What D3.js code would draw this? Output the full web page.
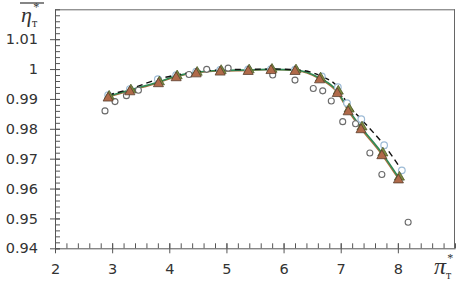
<!DOCTYPE html>
<html>
<head>
<meta charset="utf-8">
<script src="https://cdn.jsdelivr.net/npm/d3@7"></script>
<style>
  body { margin: 0; background: #fff; }
  svg { display: block; }
  .tick text { font-family: "DejaVu Sans", sans-serif; font-size: 14.5px; fill: #333; }
  .domain, .tick line { stroke: #555; }
</style>
</head>
<body>
<div id="chart"></div>
<script>
// measured points (open circles)
let expX = [2.875, 3.05, 3.25, 3.46, 4.345, 4.655, 5.03, 5.81, 6.2, 6.52, 6.685, 6.835, 7.035, 7.26, 7.51, 7.72, 8.18];
let expY = [0.9860, 0.9891, 0.9911, 0.9929, 0.9982, 0.9999, 1.0003, 0.9980, 0.9963, 0.9935, 0.9927, 0.9893, 0.9824, 0.9817, 0.9719, 0.9647, 0.9487];

// calculated series 1 (brown triangles)
let calcX = [2.93, 3.31, 3.81, 4.12, 4.47, 4.89, 5.38, 5.78, 6.2, 6.63, 6.94, 7.13, 7.355, 7.72, 8.01];
let calc1Y = [0.9906, 0.9927, 0.9954, 0.9974, 0.9987, 0.9993, 0.9995, 0.9998, 0.9995, 0.9967, 0.9921, 0.9860, 0.9800, 0.9713, 0.9632];
// calculated series 2 (green triangles)
let calc2Y = [0.9909, 0.9930, 0.9957, 0.9977, 0.9989, 0.9995, 0.9997, 0.9999, 0.9997, 0.9970, 0.9926, 0.9866, 0.9806, 0.9719, 0.9638];
// calculated series 3 (light circles, dashed line)
let calc3X = [2.93, 3.31, 3.8, 4.12, 4.47, 4.89, 5.38, 5.78, 6.2, 6.67, 6.95, 7.11, 7.36, 7.76, 8.07];
let calc3Y = [0.9913, 0.9933, 0.9966, 0.9980, 0.9991, 0.9997, 0.9999, 1.0000, 0.9998, 0.9975, 0.9939, 0.9886, 0.9832, 0.9745, 0.9661];

let xTicks = [2, 3, 4, 5, 6, 7, 8];
let yTicks = [0.94, 0.95, 0.96, 0.97, 0.98, 0.99, 1, 1.01];

let width = 469, height = 287;
let plotLeft = 55, plotRight = 455, plotTop = 9.3, plotBottom = 248.3;

let svg = d3.select("#chart").append("svg")
    .attr("width", width)
    .attr("height", height);

let x = d3.scaleLinear().domain([2, 9]).range([plotLeft, plotRight]);
let y = d3.scaleLinear().domain([0.94, 1.02]).range([plotBottom, plotTop]);

// frame top and right
svg.append("line").attr("x1", plotLeft).attr("x2", plotRight).attr("y1", plotTop + 0.5).attr("y2", plotTop + 0.5)
    .attr("stroke", "#666").attr("stroke-width", 1);
svg.append("line").attr("x1", plotRight - 0.5).attr("x2", plotRight - 0.5).attr("y1", plotTop).attr("y2", plotBottom)
    .attr("stroke", "#666").attr("stroke-width", 1);

// minor ticks (inside)
svg.append("g")
    .attr("transform", `translate(0,${plotBottom})`)
    .call(d3.axisBottom(x).tickValues(d3.range(20, 91, 2).map(d => d / 10)).tickSize(-5).tickFormat(""))
    .call(g => g.select(".domain").remove());
svg.append("g")
    .attr("transform", `translate(${plotLeft},0)`)
    .call(d3.axisLeft(y).tickValues(d3.range(940, 1021, 2).map(d => d / 1000)).tickSize(-5).tickFormat(""))
    .call(g => g.select(".domain").remove());

// major axes
let xAxis = svg.append("g")
    .attr("transform", `translate(0,${plotBottom})`)
    .call(d3.axisBottom(x).tickValues(xTicks).tickSize(5).tickPadding(10).tickSizeOuter(0)
        .tickFormat(d3.format("d")));
xAxis.selectAll(".tick line").attr("y1", -5);

let yAxis = svg.append("g")
    .attr("transform", `translate(${plotLeft},0)`)
    .call(d3.axisLeft(y).tickValues(yTicks).tickSize(5).tickPadding(12).tickSizeOuter(0)
        .tickFormat(d => d === 1 ? "1" : d3.format(".2f")(d)));
yAxis.selectAll(".tick line").attr("x1", 5);

// lines
let line = d3.line().curve(d3.curveMonotoneX);
let pts1 = calcX.map((d, i) => [x(d), y(calc1Y[i])]);
let pts2 = calcX.map((d, i) => [x(d), y(calc2Y[i])]);
let pts3 = calc3X.map((d, i) => [x(d), y(calc3Y[i])]);

svg.append("path").attr("d", line(pts1)).attr("fill", "none").attr("stroke", "#b0703c").attr("stroke-width", 1.3);
svg.append("path").attr("d", line(pts2)).attr("fill", "none").attr("stroke", "#2f8a55").attr("stroke-width", 1.6);
svg.append("path").attr("d", line(pts3)).attr("fill", "none").attr("stroke", "#111").attr("stroke-width", 1.4)
    .attr("stroke-dasharray", "6,4");

// experimental circles
svg.selectAll(".exp")
    .data(expX.map((d, i) => [d, expY[i]]))
    .enter().append("circle")
    .attr("class", "exp")
    .attr("cx", d => x(d[0]))
    .attr("cy", d => y(d[1]))
    .attr("r", 3)
    .attr("fill", "#fff")
    .attr("stroke", "#6a6a6a")
    .attr("stroke-width", 1.1);

// light circles
svg.selectAll(".c3")
    .data(pts3)
    .enter().append("circle")
    .attr("class", "c3")
    .attr("cx", d => d[0])
    .attr("cy", d => d[1])
    .attr("r", 3.3)
    .attr("fill", "#fff")
    .attr("stroke", "#9dbbd6")
    .attr("stroke-width", 1.2);

let tri = d3.symbol().type(d3.symbolTriangle).size(44);

svg.selectAll(".t2")
    .data(pts2)
    .enter().append("path")
    .attr("class", "t2")
    .attr("transform", d => `translate(${d[0] + 1},${d[1]})`)
    .attr("d", tri)
    .attr("fill", "#7d8a3e")
    .attr("stroke", "#4f5a2a")
    .attr("stroke-width", 0.8);

svg.selectAll(".t1")
    .data(pts1)
    .enter().append("path")
    .attr("class", "t1")
    .attr("transform", d => `translate(${d[0]},${d[1] + 1})`)
    .attr("d", tri)
    .attr("fill", "#b06a4a")
    .attr("stroke", "#5a4030")
    .attr("stroke-width", 0.8);

// axis titles
let yTitle = svg.append("text")
    .attr("x", 21).attr("y", 22)
    .attr("font-family", "'Liberation Serif', 'DejaVu Serif', serif")
    .attr("font-size", 22).attr("fill", "#333");
yTitle.append("tspan").attr("font-style", "italic").text("η");
yTitle.append("tspan").attr("font-size", 12).attr("dy", 5).text("т");
yTitle.append("tspan").attr("font-size", 12).attr("dx", -4).attr("dy", -16).text("*");
svg.append("line").attr("x1", 20).attr("x2", 44).attr("y1", 3).attr("y2", 3)
    .attr("stroke", "#333").attr("stroke-width", 1.2);

let xTitle = svg.append("text")
    .attr("x", 434).attr("y", 274)
    .attr("font-family", "'Liberation Serif', 'DejaVu Serif', serif")
    .attr("font-size", 24).attr("fill", "#333");
xTitle.append("tspan").attr("font-style", "italic").text("π");
xTitle.append("tspan").attr("font-size", 12).attr("dy", 5).text("т");
xTitle.append("tspan").attr("font-size", 12).attr("dx", -4).attr("dy", -17).text("*");
</script>
</body>
</html>
